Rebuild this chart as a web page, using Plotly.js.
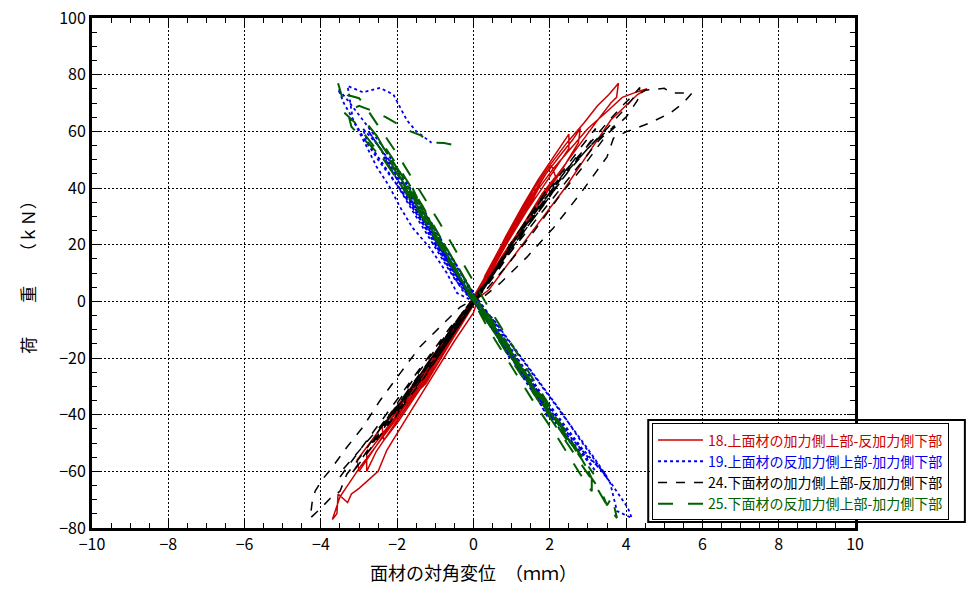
<!DOCTYPE html>
<html>
<head>
<meta charset="utf-8">
<script src="https://cdn.plot.ly/plotly-3.0.1.min.js"></script>
<style>html,body{margin:0;padding:0;background:#fff;}#chart{width:966px;height:594px;}</style>
</head>
<body>
<div id="chart"></div>
<script>
// Series 18: 上面材の加力側上部-反加力側下部 (red)
const x18 = [0,0.25,0.55,0.8,0.6,0.25,0.0,-0.3,-0.6,-0.85,-0.6,-0.2,0.0,
  0.3,0.7,1.05,1.2,0.85,0.4,0.05,-0.4,-0.85,-1.25,-1.4,-1.05,-0.5,-0.1,
  0.35,0.75,1.1,1.4,1.6,1.6,1.3,0.8,0.3,-0.1,-0.55,-1.0,-1.45,-1.8,-2.0,-2.0,-1.5,-0.95,-0.4,0.0,
  0.45,0.9,1.3,1.55,1.75,1.4,0.9,0.4,-0.05,-0.6,-1.15,-1.65,-2.05,-2.2,-1.6,-1.0,-0.45,0.0,
  0.4,0.85,1.3,1.7,2.05,2.15,1.8,1.3,0.75,0.2,-0.35,-0.9,-1.45,-1.95,-2.35,-2.4,-1.9,-1.3,-0.7,-0.1,
  0.4,0.85,1.3,1.7,2.05,2.3,2.5,2.5,2.2,1.8,1.3,0.8,0.3,-0.2,-0.7,-1.25,-1.75,-2.2,-2.55,-2.8,-2.8,-2.4,-1.9,-1.3,-0.7,-0.15,
  0.5,1.0,1.5,1.9,2.3,2.6,2.8,2.75,2.3,1.8,1.2,0.6,0.05,-0.5,-1.1,-1.75,-2.3,-2.7,-3.0,-3.05,-2.6,-2.0,-1.4,-0.8,-0.2,
  0.45,1.0,1.5,2.0,2.45,2.9,3.25,3.55,3.8,3.75,3.6,3.2,2.6,2.0,1.4,0.8,0.2,-0.4,-1.0,-1.6,-2.1,-2.55,-2.95,-3.25,-3.5,-3.7,-3.58,-3.55,-3.3,-3.2,-3.0,-2.5,-2.27,-1.7,-1.1,-0.5,0.0,
  0.3,0.9,1.5,2.1,2.6,3.0,3.5,3.9,4.3,4.55,4.3,3.6,3.05,2.4,1.5,0.8,0.4,0.0];
const y18 = [0,7,14,20,15,5,0,-7,-14,-20,-13,-3,0,
  8,18,27,30,22,10,1,-10,-20,-29,-31,-23,-11,-1,
  9,19,28,35,40,37,31,19,7,-2,-12,-22,-31,-37,-41,-38,-29,-18,-7,0,
  11,22,31,37,41,32,21,9,-1,-13,-25,-34,-40,-42,-31,-19,-8,0,
  10,22,32,41,48,44,38,27,15,3,-9,-21,-32,-42,-49,-44,-36,-24,-12,-1,
  11,23,34,43,50,55,59,54,48,40,30,19,7,-5,-16,-27,-37,-46,-53,-60,-54,-47,-38,-26,-14,-2,
  12,25,36,45,52,57,61,56,46,36,24,12,1,-11,-24,-36,-46,-54,-60,-56,-48,-37,-26,-15,-3,
  12,26,38,48,56,63,69,73,77,72,70,63,52,41,29,17,4,-8,-21,-33,-43,-51,-58,-64,-69,-77,-75,-68,-71,-68,-66,-60,-52.5,-40,-27,-14,-4,
  9,24,36,47,55,61,67,72,74,75,73,64,53,40,24,11,4,0];

// Series 19: 上面材の反加力側上部-加力側下部 (blue)
const x19 = [0,-0.35,-0.7,-1.0,-0.7,-0.3,0,0.35,0.7,0.95,0.65,0.25,0,
  -0.4,-0.8,-1.2,-1.55,-1.85,-1.5,-1.0,-0.5,0,0.5,0.95,1.35,1.7,1.95,1.6,1.1,0.5,0,
  -0.45,-0.9,-1.35,-1.7,-2.0,-1.6,-1.05,-0.5,0.05,0.55,1.05,1.5,1.85,2.1,1.7,1.1,0.5,0,
  -0.4,-0.85,-1.3,-1.75,-2.1,-2.35,-2.0,-1.5,-0.9,-0.3,0.3,0.85,1.4,1.9,2.3,2.6,2.2,1.6,1.0,0.35,
  -0.45,-0.9,-1.35,-1.8,-2.15,-2.45,-2.75,-2.5,-2.0,-1.5,-1.0,-0.45,0.1,0.6,1.1,1.6,2.05,2.5,2.9,3.2,2.8,2.2,1.6,1.0,0.4,
  -0.1,-0.6,-1.1,-1.6,-2.05,-2.45,-2.8,-2.9,-2.5,-2.0,-1.4,-0.8,-0.2,0.35,0.9,1.5,2.05,2.55,3.0,3.4,3.5,3.1,2.5,1.9,1.3,0.7,0.1,
  -0.45,-1.0,-1.5,-2.0,-2.45,-2.85,-3.15,-3.4,-3.55,-3.3,-2.9,-2.4,-1.8,-1.2,-0.6,0,0.6,1.2,1.8,2.35,2.85,3.3,3.65,3.9,4.05,4.15,3.76,3.58,3.23,2.8,2.3,1.7,1.1,0.5,0,
  -0.43,-0.7,-1.15,-1.6,-1.93,-2.2,-2.54,-2.8,-3.16,-3.24,-3.3,-2.9,-2.45,-2.1,-1.98,-1.75,-1.5,-1.1];
const y19 = [0,7,14,20,13,4,0,-7,-14,-20,-13,-4,0,
  8,17,26,33,40,31,20,9,0,-10,-19,-28,-35,-41,-32,-21,-9,0,
  9,19,28,35,41,32,20,8,-1,-11,-21,-30,-37,-42,-33,-21,-9,0,
  9,19,29,38,45,51,43,33,20,6,-6,-17,-28,-38,-46,-51,-42,-31,-19,-6,
  10,21,31,40,47,54,60,55,46,36,25,13,-1,-11,-21,-31,-40,-48,-55,-60,-52,-41,-30,-19,-7,
  2,13,24,34,42,50,57,61,55,45,33,20,7,-5,-16,-28,-39,-48,-55,-60,-62,-54,-43,-32,-21,-10,1,
  10,21,31,41,49,57,64,70,75,71,64,55,43,30,16,3,-9,-21,-33,-43,-52,-59,-65,-70,-73,-76.5,-74,-64,-57,-49,-39,-28,-17,-6,0,
  2.9,10,19,26,33.4,40.4,47.5,54.6,64,71,76,73.8,75.3,73,70,64,60,56];

// Series 24: 下面材の加力側上部-反加力側下部 (black)
const x24 = [0,0.35,0.7,1.0,0.7,0.3,0,-0.35,-0.7,-1.0,-0.7,-0.3,0,
  0.45,0.9,1.3,1.65,1.95,1.6,1.1,0.55,0.05,-0.45,-0.9,-1.35,-1.75,-2.05,-1.7,-1.1,-0.5,0,
  0.5,1.0,1.5,1.9,2.2,1.8,1.2,0.6,0,-0.5,-1.0,-1.5,-1.95,-2.25,-1.8,-1.2,-0.6,0,
  0.5,1.0,1.55,2.05,2.5,2.7,2.3,1.7,1.0,0.35,-0.3,-0.9,-1.5,-2.05,-2.5,-2.7,-2.3,-1.7,-1.0,-0.35,
  0.5,1.0,1.5,2.0,2.45,2.85,3.2,3.1,2.6,2.0,1.4,0.8,0.2,-0.4,-1.0,-1.6,-2.1,-2.6,-3.0,-3.2,-2.8,-2.2,-1.6,-1.0,-0.4,
  0.1,0.7,1.3,1.9,2.5,3.0,3.4,3.7,3.3,2.7,2.0,1.3,0.6,0,-0.6,-1.3,-1.9,-2.5,-3.0,-3.4,-3.5,-3.0,-2.4,-1.8,-1.2,-0.6,0,
  0.6,1.2,1.8,2.4,3.0,3.5,3.9,4.2,4.36,4.3,4.0,3.5,2.9,2.3,1.6,0.9,0.2,
  -0.35,-0.88,-1.4,-1.93,-2.45,-2.9,-3.32,-3.76,-3.97,-4.15,-4.23,-4.28,-4.0,-3.76,-3.5,-3.32,-2.8,-2.2,-1.6,-1.0,-0.4,0.1,
  0.6,1.2,1.8,2.4,3.0,3.5,3.9,4.2,4.5,5.0,5.2,5.73,5.5,5.15,4.63,4.0,3.67,3.5,2.8,2.1,1.4,0.7,0.3];
const y24 = [0,7,14,20,14,5,0,-7,-14,-20,-13,-4,0,
  9,18,27,34,40,33,22,10,0,-10,-19,-28,-35,-41,-33,-21,-9,0,
  9,19,28,35,41,34,22,10,-1,-11,-21,-30,-37,-42,-34,-22,-10,0,
  10,20,30,39,47,51,44,33,20,7,-6,-17,-28,-38,-46,-51,-43,-31,-18,-5,
  10,21,31,40,48,55,61,57,48,37,26,15,3,-8,-20,-31,-41,-50,-57,-61,-53,-42,-30,-19,-7,
  2,13,25,36,46,54,59,62,57,47,35,23,11,0,-11,-24,-35,-45,-53,-59,-62,-53,-42,-31,-20,-9,0,
  12,24,36,46,55,63,69,73,75.5,71,65,59,48,38,25,13,2,
  -2,-9,-16,-25.5,-35,-44.4,-51.5,-59.6,-63,-67,-71,-76.5,-73,-69.6,-67,-61,-52,-40,-28,-17,-6,2,
  12,24,35,45,54,61,67,72,74.5,75.2,73.5,73.5,70,66.4,63,59.8,57.6,51,38,26,15.6,6.4,2];

// Series 25: 下面材の反加力側上部-加力側下部 (green)
const x25 = [0,-0.3,-0.6,-0.85,-0.55,-0.2,0,0.4,0.8,1.1,0.8,0.35,0,
  -0.35,-0.7,-1.05,-1.35,-1.6,-1.3,-0.85,-0.4,0.05,0.55,1.0,1.4,1.75,2.0,1.65,1.15,0.55,0.05,
  -0.35,-0.8,-1.25,-1.65,-2.0,-2.2,-1.85,-1.35,-0.8,-0.2,0.4,0.95,1.5,2.0,2.4,2.7,2.3,1.75,1.1,0.45,
  -0.4,-0.85,-1.3,-1.7,-2.05,-2.35,-2.6,-2.4,-1.95,-1.45,-0.95,-0.4,0.15,0.7,1.2,1.7,2.15,2.55,2.9,3.15,2.75,2.2,1.6,1.0,0.4,
  -0.1,-0.55,-1.0,-1.45,-1.9,-2.3,-2.65,-2.75,-2.4,-1.9,-1.35,-0.8,-0.2,0.4,0.95,1.5,2.0,2.45,2.85,3.1,3.1,2.75,2.2,1.6,1.0,0.4,0,
  -0.45,-0.95,-1.45,-1.95,-2.4,-2.8,-3.1,-3.37,-3.4,-3.55,-3.3,-3.0,-2.9,-2.5,-2.0,-1.45,-0.9,-0.3,0.3,0.9,1.5,2.05,2.5,2.87,3.1,3.37,3.5,3.63,3.76,3.5,3.2,2.75,2.2,1.6,1.0,0.4,0,
  -0.4,-0.9,-1.4,-1.9,-2.3,-2.7,-3.0,-3.2,-3.3,-3.0,-2.6,-2.3,-2.0,-1.65,-1.4,-1.1,-0.77,-0.53];
const y25 = [0,7,14,20,13,4,0,-7,-14,-20,-13,-4,0,
  8,17,26,33,40,31,20,9,0,-10,-19,-28,-35,-41,-32,-21,-9,0,
  8,18,28,37,45,50,42,31,19,5,-8,-19,-30,-40,-48,-53,-45,-34,-21,-8,
  10,21,31,40,48,54,60,55,46,35,24,12,-1,-12,-22,-32,-41,-49,-56,-61,-53,-42,-30,-19,-7,
  2,13,24,34,43,51,58,62,56,46,34,21,7,-6,-17,-29,-39,-48,-56,-62,-67,-60,-48,-36,-23,-10,0,
  10,21,32,42,51,58,63,66.4,70,77,72.8,71.7,70,62,52,40,28,14,0,-13,-26,-38,-48,-56,-62.5,-67.7,-72,-69,-76.5,-72,-65,-56,-45,-33,-21,-8,0,
  9,20,31,41,49,55,58.7,61.6,67,69,67,65,62.8,60,58.7,56,55.9,55.2];

const seriesNames = ['18.上面材の加力側上部-反加力側下部','19.上面材の反加力側上部-加力側下部',
                     '24.下面材の加力側上部-反加力側下部','25.下面材の反加力側上部-加力側下部'];
const seriesColors = ['#cc0000','#0000ee','#000000','#006000'];
const xTitle = '面材の対角変位　（ｍｍ）';
const yTitle = '荷　　重　　（ｋＮ）';

const font = '"Noto Sans CJK JP", "Noto Sans", sans-serif';
const dashes = ['solid','dot','dash','longdash'];
const widths = [1.5,1.8,1.5,2];
const xs = [x18,x19,x24,x25], ys = [y18,y19,y24,y25];
const traces = xs.map((x,i)=>({
  x: x, y: ys[i], type:'scatter', mode:'lines',
  name: '<span style="color:'+seriesColors[i]+'">'+seriesNames[i]+'</span>',
  line:{color:seriesColors[i], width:widths[i], dash:dashes[i]}
}));

const axisCommon = {
  showline:true, linecolor:'#000', linewidth:3, mirror:'allticks',
  ticks:'inside', ticklen:8, tickwidth:1, tickcolor:'#000',
  showgrid:true, gridcolor:'#000', gridwidth:1, griddash:'2px,2px',
  zeroline:false, tickfont:{family:font, size:16, color:'#000'}
};

const layout = {
  width:966, height:594,
  margin:{l:92, r:111, t:18, b:66},
  paper_bgcolor:'#fff', plot_bgcolor:'#fff',
  font:{family:font, color:'#000'},
  showlegend:true,
  xaxis: Object.assign({}, axisCommon, {
    range:[-10,10], dtick:2, tick0:-10,
    minor:{dtick:0.5, ticks:'inside', ticklen:5, tickcolor:'#000', showgrid:false},
    title:{text:xTitle, font:{family:font, size:18, color:'#000'}, standoff:14}
  }),
  yaxis: Object.assign({}, axisCommon, {
    range:[-80,100], dtick:20, tick0:-80,
    minor:{dtick:5, ticks:'inside', ticklen:5, tickcolor:'#000', showgrid:false},
    title:{text:yTitle, font:{family:font, size:17, color:'#000'}, standoff:20}
  }),
  legend:{
    x:0.734, y:0.205, xanchor:'left', yanchor:'top',
    bgcolor:'#fff', bordercolor:'#000', borderwidth:1,
    font:{family:font, size:14, color:'#000'},
    itemwidth:45, tracegroupgap:0
  },
  shapes:[{type:'rect', xref:'paper', yref:'paper', x0:0.729, x1:1.144, y0:0.012, y1:0.212,
           line:{color:'#000', width:2}, fillcolor:'rgba(0,0,0,0)', layer:'above'}]
};

Plotly.newPlot('chart', traces, layout, {displayModeBar:false, staticPlot:true});
</script>
</body>
</html>
